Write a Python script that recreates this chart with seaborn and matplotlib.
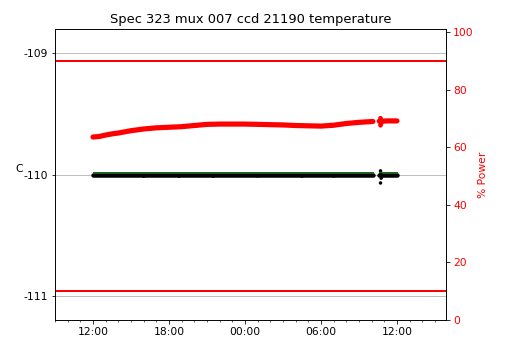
import matplotlib
matplotlib.use("Agg")
import matplotlib.pyplot as plt
import matplotlib.dates as mdates
import numpy as np
import pandas as pd
import seaborn as sns

plt.rcParams["axes.unicode_minus"] = False
plt.rcParams["font.size"] = 10.8
plt.rcParams["axes.titlesize"] = 13

title = "Spec 323 mux 007 ccd 21190 temperature"

# hours since midnight of day 1
power_hours = [12.0, 12.5, 13.0, 13.5, 14.0, 14.5, 15.0, 15.5, 16.0, 16.5, 17.0, 18.0,
               19.0, 20.0, 21.0, 22.0, 23.0, 24.0, 25.0, 26.0, 27.0, 28.0, 29.0, 30.0,
               31.0, 32.0, 33.0, 34.1,
               34.6, 34.8, 35.2, 36.0]
power_values = [63.5, 63.7, 64.2, 64.6, 64.9, 65.3, 65.7, 66.0, 66.3, 66.5, 66.7, 66.9,
                67.1, 67.5, 67.9, 68.0, 68.0, 68.0, 67.9, 67.8, 67.7, 67.5, 67.4, 67.3,
                67.6, 68.2, 68.6, 68.9,
                69.0, 69.0, 69.1, 69.1]
power_segment = [0] * 28 + [1] * 4
power_scatter_hours = [34.7, 34.7, 34.75]
power_scatter_values = [67.6, 70.0, 68.3]

temp_hours = [12.0, 34.1, 34.6, 36.0]
temp_values = [-110.005, -110.005, -110.005, -110.005]
temp_segment = [0, 0, 1, 1]
temp_scatter_hours = [16.0, 18.8, 21.5, 25.0, 28.5, 31.0, 34.7, 34.7, 34.72, 34.75]
temp_scatter_values = [-110.014, -110.014, -110.014, -110.012, -110.014, -110.012,
                       -109.97, -110.07, -109.985, -110.03]
setpoint_hours = [12.0, 34.1, 34.6, 36.0]
setpoint_values = [-109.979, -109.979, -109.979, -109.979]
setpoint_segment = [0, 0, 1, 1]

power_limits = [90, 10]
temp_ticks = [-111, -110, -109]
power_ticks = [0, 20, 40, 60, 80, 100]

base = pd.Timestamp("2021-03-01")
def to_time(h):
    return base + pd.to_timedelta(np.asarray(h, dtype=float), unit="h")

df_power = pd.DataFrame({"time": to_time(power_hours), "value": power_values, "seg": power_segment})
df_temp = pd.DataFrame({"time": to_time(temp_hours), "value": temp_values, "seg": temp_segment})
df_set = pd.DataFrame({"time": to_time(setpoint_hours), "value": setpoint_values, "seg": setpoint_segment})
df_tsc = pd.DataFrame({"time": to_time(temp_scatter_hours), "value": temp_scatter_values})
df_psc = pd.DataFrame({"time": to_time(power_scatter_hours), "value": power_scatter_values})

fig = plt.figure(figsize=(507 / 72, 345 / 72), dpi=72)
ax = fig.add_axes([55 / 507, 25 / 345, 391 / 507, 291 / 345])
ax2 = ax.twinx()

sns.lineplot(data=df_set, x="time", y="value", units="seg", estimator=None,
             color="green", lw=1.0, ax=ax, legend=False)
sns.lineplot(data=df_temp, x="time", y="value", units="seg", estimator=None,
             color="black", lw=4.5, ax=ax, legend=False, solid_capstyle="round")
sns.scatterplot(data=df_tsc, x="time", y="value", color="black", s=12,
                edgecolor="none", ax=ax, legend=False)

sns.lineplot(data=df_power, x="time", y="value", units="seg", estimator=None,
             color="red", lw=5.2, ax=ax2, legend=False, solid_capstyle="round")
sns.scatterplot(data=df_psc, x="time", y="value", color="red", s=22,
                edgecolor="none", ax=ax2, legend=False)
for lim in power_limits:
    ax2.axhline(lim, color="red", lw=2)

ax.set_ylim(-111.2, -108.8)
ax.set_yticks(temp_ticks)
ax.yaxis.grid(True, color="#b0b0b0", lw=0.8)
ax.set_axisbelow(True)
ax.set_ylabel("C", rotation=0)
ax.yaxis.set_label_coords(-0.093, 0.5)
ax.set_xlabel("")
ax.set_title(title)

ax.set_xlim(base + pd.Timedelta(hours=9), base + pd.Timedelta(hours=39.87))
ax.xaxis.set_major_locator(mdates.HourLocator(byhour=[0, 6, 12, 18]))
ax.xaxis.set_minor_locator(mdates.HourLocator())
ax.xaxis.set_major_formatter(mdates.DateFormatter("%H:%M"))

ax2.set_ylim(0, 101)
ax2.set_yticks(power_ticks)
ax2.tick_params(axis="y", labelcolor="red")
ax2.set_ylabel("% Power", color="red")
ax2.set_xlabel("")

fig.savefig("out.png", dpi=72)
